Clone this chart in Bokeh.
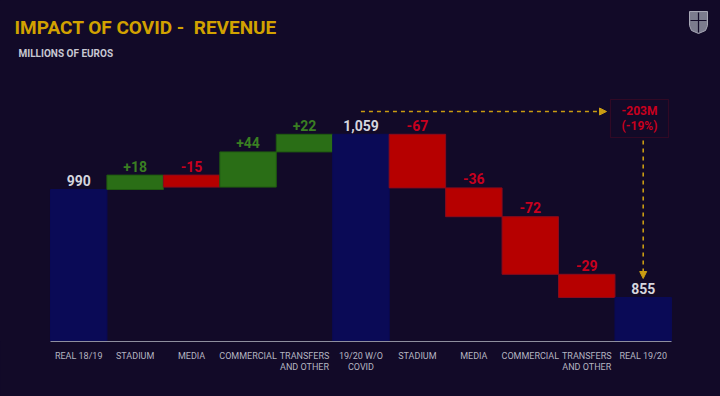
from bokeh.plotting import figure
from bokeh.models import (Range1d, FixedTicker, Label, BoxAnnotation, Arrow,
                          NormalHead, ColumnDataSource)
from bokeh.embed import file_html
from bokeh.resources import INLINE
from bokeh.core.properties import value

# ---------------- data ----------------
categories = ["REAL 18/19", "STADIUM", "MEDIA", "COMMERCIAL", "TRANSFERS\nAND OTHER",
              "19/20 W/O\nCOVID", "STADIUM", "MEDIA", "COMMERCIAL", "TRANSFERS\nAND OTHER",
              "REAL 19/20"]
kinds = ["total", "delta", "delta", "delta", "delta", "total",
         "delta", "delta", "delta", "delta", "total"]
amounts = [990, 18, -15, 44, 22, 1059, -67, -36, -72, -29, 855]
value_labels = ["990", "+18", "-15", "+44", "+22", "1,059", "-67", "-36", "-72", "-29", "855"]
change_lines = ["-203M", "(-19%)"]
axis_floor = 800

# ---------------- style ----------------
BG = "#120a28"
NAVY = "#0a0a56"
GREEN = "#2a6e16"
GREEN_EDGE = "#1f5a10"
GREEN_TXT = "#3a7f22"
RED = "#b60000"
RED_EDGE = "#8a0a1c"
RED_TXT = "#c8001e"
WHITE_TXT = "#d6d6de"
GOLD = "#d2a200"
DASH_GOLD = "#c99c12"
FONT = "Roboto"

W, H = 720, 396
BOTTOM_BORDER = 55
PX_X = 56.45          # pixels per category
CENTER0 = 78.2        # canvas-x of first category centre
PX_Y = 0.8            # pixels per million
FRAME_H = H - BOTTOM_BORDER


def fx(px):   # canvas pixel x -> data x
    return (px - CENTER0) / PX_X


def fy(py):   # canvas pixel y (from top) -> data y
    return axis_floor + (FRAME_H - py) / PX_Y


# ---------------- waterfall geometry ----------------
xs, bottoms, tops, fills, edges, lab_y, lab_col = [], [], [], [], [], [], []
running = 0
for i, (k, a) in enumerate(zip(kinds, amounts)):
    if k == "total":
        b, t = axis_floor, a
        running = a
        fills.append(NAVY); edges.append(NAVY); lab_col.append(WHITE_TXT)
    else:
        b, t = running, running + a
        running += a
        if a >= 0:
            fills.append(GREEN); edges.append(GREEN_EDGE); lab_col.append(GREEN_TXT)
        else:
            fills.append(RED); edges.append(RED_EDGE); lab_col.append(RED_TXT)
    xs.append(i)
    bottoms.append(min(b, t))
    tops.append(max(b, t))
    lab_y.append(max(b, t))

src = ColumnDataSource(dict(x=xs, bottom=bottoms, top=tops, fill=fills, edge=edges,
                            ly=lab_y, lc=lab_col, txt=value_labels))

p = figure(width=W, height=H, output_backend="svg", toolbar_location=None,
           x_range=Range1d(fx(0), fx(W)), y_range=Range1d(axis_floor, fy(0)),
           y_axis_location=None, min_border_left=0, min_border_right=0,
           min_border_top=0, min_border_bottom=BOTTOM_BORDER)
p.background_fill_color = BG
p.border_fill_color = BG
p.outline_line_color = None
p.grid.visible = False

p.vbar(x="x", bottom="bottom", top="top", width=1.0, fill_color="fill",
       line_color="edge", line_width=1, source=src)

p.text(x="x", y="ly", text="txt", text_color="lc", source=src,
       text_font=value(FONT), text_font_style="bold", text_font_size="14px",
       text_align="center", text_baseline="middle", y_offset=-9)

# x axis
ax = p.xaxis[0]
ax.ticker = FixedTicker(ticks=list(range(len(categories))))
ax.major_label_overrides = {i: c for i, c in enumerate(categories)}
ax.bounds = (-0.5, len(categories) - 0.5)
ax.axis_line_color = "#8e8e9e"
ax.axis_line_width = 1.2
ax.major_tick_line_color = None
ax.minor_tick_line_color = None
ax.major_tick_out = 0
ax.major_tick_in = 0
ax.major_label_standoff = 9
ax.major_label_text_font = FONT
ax.major_label_text_font_size = "9px"
ax.major_label_text_color = "#b4b4c0"
ax.major_label_text_line_height = 1.1

# titles
p.add_layout(Label(x=fx(14), y=fy(27), text="IMPACT OF COVID -\u00a0 REVENUE",
                   text_font=FONT, text_font_style="bold", text_font_size="19px",
                   text_color=GOLD, text_baseline="middle"))
p.add_layout(Label(x=fx(18), y=fy(53), text="MILLIONS OF EUROS",
                   text_font=FONT, text_font_style="bold", text_font_size="10px",
                   text_color="#c8c8d2", text_baseline="middle"))

# change annotation
i_pre = kinds.index("total", 1)
i_end = len(kinds) - 1
box_left, box_right = fx(610), fx(668)
box_top, box_bot = fy(99), fy(137)
p.add_layout(BoxAnnotation(left=box_left, right=box_right, top=box_top, bottom=box_bot,
                           fill_alpha=0, line_color="#7c0a20", line_width=1.2))
p.add_layout(Label(x=(box_left + box_right) / 2, y=fy(110), text=change_lines[0],
                   text_font=FONT, text_font_style="bold", text_font_size="12px",
                   text_color=RED_TXT, text_align="center", text_baseline="middle"))
p.add_layout(Label(x=(box_left + box_right) / 2, y=fy(125), text=change_lines[1],
                   text_font=FONT, text_font_style="bold", text_font_size="12px",
                   text_color=RED_TXT, text_align="center", text_baseline="middle"))

arrow_y = fy(111)
p.add_layout(Arrow(x_start=i_pre, y_start=arrow_y, x_end=fx(606), y_end=arrow_y,
                   line_color=DASH_GOLD, line_width=1.6, line_dash="4 4",
                   end=NormalHead(size=7, fill_color=DASH_GOLD, line_color=DASH_GOLD)))
p.add_layout(Arrow(x_start=i_end, y_start=fy(140), x_end=i_end, y_end=fy(278),
                   line_color=DASH_GOLD, line_width=1.6, line_dash="4 4",
                   end=NormalHead(size=7, fill_color=DASH_GOLD, line_color=DASH_GOLD)))

# small crest (decoration)
sx = [689, 707, 707, 705, 698, 691, 689]
sy = [11, 11, 25, 30, 33, 30, 25]
p.patch([fx(v) for v in sx], [fy(v) for v in sy], fill_color="#7c7c8e",
        line_color="#a8a8b6", line_width=1)
p.line([fx(698), fx(698)], [fy(12), fy(32)], line_color=BG, line_width=1.2)
p.line([fx(690), fx(706)], [fy(20), fy(20)], line_color=BG, line_width=1.2)

html = file_html(p, INLINE)
html = html.replace("</head>", "<style>html,body{background:%s;}</style></head>" % BG, 1)
open("out.html", "w").write(html)
